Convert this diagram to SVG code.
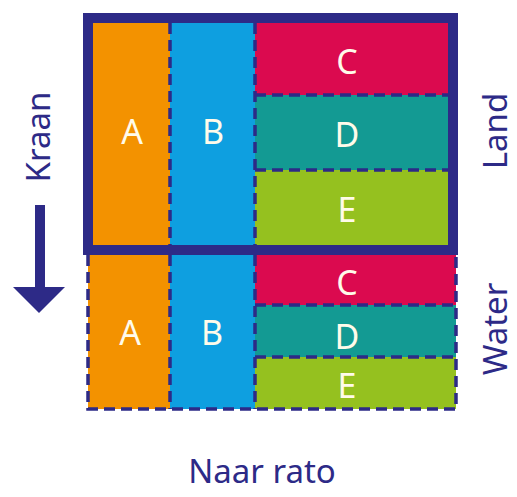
<svg xmlns="http://www.w3.org/2000/svg" width="517" height="497" viewBox="0 0 517 497">
<style>
.a{fill:#F39200}.b{fill:#0E9FE0}.c{fill:#DB0A4F}.d{fill:#139A93}.e{fill:#95C11F}
.dash{stroke:#2D2A87;stroke-width:3.5;stroke-dasharray:11 6;fill:none}
.lt{font-family:"Noto Sans","Open Sans",sans-serif;font-size:34px;fill:#FFFBEA;text-anchor:middle}
.lab{font-family:"Noto Sans","Open Sans",sans-serif;font-size:33px;fill:#2D2A87;text-anchor:middle}
</style>
<rect width="517" height="497" fill="#fff"/>
<g id="water">
<g id="wA"><rect class="a" x="88" y="255" width="82" height="154"/><text class="lt" x="130" y="345">A</text></g>
<g id="wB"><rect class="b" x="170" y="255" width="85" height="154"/><text class="lt" x="212" y="345">B</text></g>
<g id="wC"><rect class="c" x="255" y="255" width="201" height="50"/><text class="lt" x="347" y="295">C</text></g>
<g id="wD"><rect class="d" x="255" y="305" width="201" height="52"/><text class="lt" x="347" y="349">D</text></g>
<g id="wE"><rect class="e" x="255" y="357" width="201" height="52"/><text class="lt" x="347" y="398">E</text></g>
<path class="dash" d="M88 255V409H456V255M170 255V409M255 255V409M255 305H456M255 357H456"/>
</g>
<g id="land">
<g id="lA"><rect class="a" x="93" y="23" width="77" height="222"/><text class="lt" x="132" y="144">A</text></g>
<g id="lB"><rect class="b" x="170" y="23" width="85" height="222"/><text class="lt" x="213" y="144">B</text></g>
<g id="lC"><rect class="c" x="255" y="23" width="193" height="72"/><text class="lt" x="347" y="74">C</text></g>
<g id="lD"><rect class="d" x="255" y="95" width="193" height="75"/><text class="lt" x="347" y="147">D</text></g>
<g id="lE"><rect class="e" x="255" y="170" width="193" height="75"/><text class="lt" x="347" y="222">E</text></g>
<path class="dash" d="M170 23V245M255 23V245M255 95H448M255 170H448"/>
<rect id="frame" x="88" y="18" width="365" height="232" fill="none" stroke="#2D2A87" stroke-width="10"/>
</g>
<g id="connectors">
<path id="arrow" d="M35 205H45V287H65L39 313L13 287H35Z" fill="#2D2A87"/>
</g>
<g id="labels">
<text class="lab" transform="translate(50 137) rotate(-90)">Kraan</text>
<text class="lab" transform="translate(507 131) rotate(-90)">Land</text>
<text class="lab" transform="translate(507 329) rotate(-90)">Water</text>
<text class="lab" x="262" y="483">Naar rato</text>
</g>
</svg>
